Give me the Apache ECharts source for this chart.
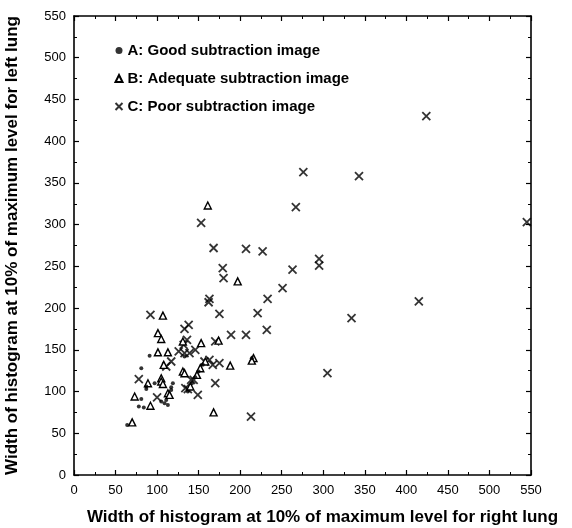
<!DOCTYPE html>
<html><head><meta charset="utf-8">
<script src="https://cdn.jsdelivr.net/npm/echarts@6/dist/echarts.min.js"></script>
<style>html,body{margin:0;padding:0;background:#fff}#c{width:572px;height:528px}</style>
</head><body><div id="c"></div>
<script>
var seriesNames = ['A: Good subtraction image', 'B: Adequate subtraction image', 'C: Poor subtraction image'];
var xTicks = [0, 50, 100, 150, 200, 250, 300, 350, 400, 450, 500, 550];
var yTicks = [0, 50, 100, 150, 200, 250, 300, 350, 400, 450, 500, 550];
var goodA = [[91,143],[133,142],[81,128],[87,103],[97,110],[119,110],[117,105],[117,102],[81,91],[78,82],[84,81],[105,88],[109,86],[113,84],[64,60],[155,132],[150,124],[146,117],[142,110],[137,100],[214,140],[111,90],[87,106]];
var adequateB = [[161,323],[197,232],[107,191],[101,170],[105,163],[131,160],[153,158],[174,161],[101,147],[113,147],[216,140],[214,137],[188,131],[108,132],[131,124],[133,122],[89,110],[105,116],[105,112],[107,109],[113,98],[168,75],[73,94],[92,83],[70,63],[115,96],[158,136],[152,128],[148,120],[140,106]];
var poorC = [[424,430],[276,363],[343,358],[545,303],[295,259],[295,251],[415,208],[334,188],[305,122],[153,302],[267,321],[168,272],[207,271],[227,268],[179,248],[180,236],[263,246],[251,224],[233,211],[163,211],[162,207],[175,193],[221,194],[92,192],[232,174],[133,175],[138,180],[189,168],[207,168],[136,162],[132,156],[170,160],[126,148],[133,146],[139,146],[146,150],[175,134],[163,138],[157,136],[167,132],[117,136],[111,130],[78,115],[137,103],[141,114],[149,96],[170,110],[213,70],[100,93],[134,104],[144,114]];

var chart = echarts.init(document.getElementById('c'));
var axisCommon = {
  type: 'value', min: 0, max: 550, interval: 50,
  axisLine: {show: true, onZero: false, lineStyle: {color: '#000', width: 1.6}},
  axisTick: {show: true, inside: true, length: 5, lineStyle: {color: '#000', width: 1.2}},
  minorTick: {show: true, splitNumber: 2, length: 3, lineStyle: {color: '#000', width: 1}},
  splitLine: {show: false}
};
var font = '"Liberation Sans", Arial, Helvetica, sans-serif';
chart.setOption({
  animation: false,
  textStyle: {fontFamily: font},
  grid: {left: 74, right: 41, top: 16, bottom: 53, containLabel: false, outerBoundsMode: 'none'},
  legend: {
    orient: 'vertical', left: 108, top: 38, itemGap: 13, itemWidth: 7, itemHeight: 7,
    textStyle: {fontSize: 15, fontWeight: 'bold', color: '#000', fontFamily: font, padding: [0, 0, 0, 0]},
    data: seriesNames
  },
  xAxis: [
    Object.assign({}, axisCommon, {
      position: 'bottom',
      axisLabel: {color: '#000', fontSize: 13, margin: 9, fontFamily: font,
        formatter: function (v) { return xTicks.indexOf(v) >= 0 ? String(v) : ''; }},
      name: 'Width of histogram at 10% of maximum level for right lung',
      nameLocation: 'middle', nameGap: 34,
      nameTextStyle: {fontSize: 17, fontWeight: 'bold', color: '#000', fontFamily: font, padding: [0, 0, 0, 40]}
    }),
    Object.assign({}, axisCommon, {position: 'top', axisLabel: {show: false}})
  ],
  yAxis: [
    Object.assign({}, axisCommon, {
      position: 'left',
      axisLabel: {color: '#000', fontSize: 13, margin: 8, fontFamily: font,
        formatter: function (v) { return yTicks.indexOf(v) >= 0 ? String(v) : ''; }},
      name: 'Width of histogram at 10% of maximum level for left lung',
      nameLocation: 'middle', nameGap: 53,
      nameTextStyle: {fontSize: 17, fontWeight: 'bold', color: '#000', fontFamily: font}
    }),
    Object.assign({}, axisCommon, {position: 'right', axisLabel: {show: false}})
  ],
  series: [
    {name: seriesNames[0], type: 'scatter', data: goodA, symbol: 'circle', symbolSize: 4,
      itemStyle: {color: '#000'}, z: 3},
    {name: seriesNames[1], type: 'scatter', data: adequateB, symbol: 'triangle', symbolSize: 7,
      itemStyle: {color: '#fff', borderColor: '#000', borderWidth: 1.4, opacity: 1}, z: 2},
    {name: seriesNames[2], type: 'scatter', data: poorC, symbol: 'path://M0,0L10,10M10,0L0,10', symbolSize: 8,
      itemStyle: {color: 'none', borderColor: '#000', borderWidth: 1.8}, z: 1}
  ]
});
</script></body></html>
